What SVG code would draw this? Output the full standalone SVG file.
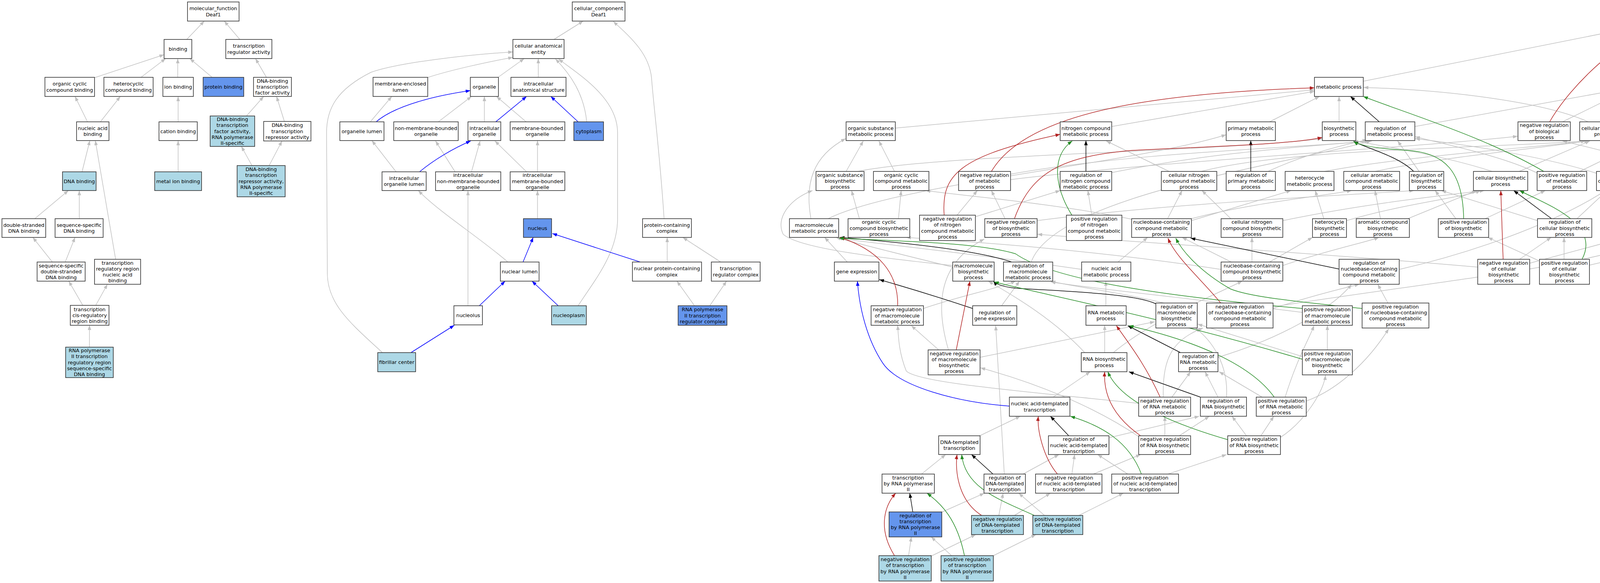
<svg xmlns="http://www.w3.org/2000/svg" width="6804" height="1493" viewBox="0 0 6804 1493">
<style>
.n rect{fill:#fff;stroke:#333;stroke-width:1.6}
.lb rect{fill:#add8e6}
.cb rect{fill:#6495ed}
text{font-family:"DejaVu Sans","Liberation Sans",sans-serif;font-size:12.8px;text-anchor:middle;fill:#000}
#edges path{fill:none;stroke-width:1.5}
#edges .g{stroke:#c0c0c0;marker-end:url(#ag)}
#edges .b{stroke:#0000ff;marker-end:url(#ab)}
#edges .k{stroke:#000;marker-end:url(#ak)}
#edges .r{stroke:#b22222;marker-end:url(#ar)}
#edges .gr{stroke:#228b22;marker-end:url(#agr)}
</style>
<defs>
<marker id="ag" viewBox="0 0 12 9" refX="12" refY="4.5" markerWidth="12" markerHeight="9" markerUnits="userSpaceOnUse" orient="auto"><path d="M0,0L12,4.5L0,9z" fill="#c0c0c0"/></marker>
<marker id="ab" viewBox="0 0 12 9" refX="12" refY="4.5" markerWidth="12" markerHeight="9" markerUnits="userSpaceOnUse" orient="auto"><path d="M0,0L12,4.5L0,9z" fill="#0000ff"/></marker>
<marker id="ak" viewBox="0 0 12 9" refX="12" refY="4.5" markerWidth="12" markerHeight="9" markerUnits="userSpaceOnUse" orient="auto"><path d="M0,0L12,4.5L0,9z" fill="#000"/></marker>
<marker id="ar" viewBox="0 0 12 9" refX="12" refY="4.5" markerWidth="12" markerHeight="9" markerUnits="userSpaceOnUse" orient="auto"><path d="M0,0L12,4.5L0,9z" fill="#b22222"/></marker>
<marker id="agr" viewBox="0 0 12 9" refX="12" refY="4.5" markerWidth="12" markerHeight="9" markerUnits="userSpaceOnUse" orient="auto"><path d="M0,0L12,4.5L0,9z" fill="#228b22"/></marker>
</defs>
<rect x="0" y="0" width="6804" height="1493" fill="#fff"/>
<g id="edges">
<path class="g" d="M478,101L523,54"/>
<path class="g" d="M614,101L574,54"/>
<path class="g" d="M242,199L420,140"/>
<path class="g" d="M361,198L424,150"/>
<path class="g" d="M455,198L455,150"/>
<path class="g" d="M543,198L486,150"/>
<path class="g" d="M682,198L654,150"/>
<path class="g" d="M224,312L192,247"/>
<path class="g" d="M257,312L308,247"/>
<path class="g" d="M456,312L456,247"/>
<path class="g" d="M631,297L675,247"/>
<path class="g" d="M728,311L708,247"/>
<path class="g" d="M210,440L230,360"/>
<path class="g" d="M456,440L456,360"/>
<path class="g" d="M645,424L618,375"/>
<path class="g" d="M689,424L722,361"/>
<path class="g" d="M89,560L175,488"/>
<path class="g" d="M203,560L203,488"/>
<path class="g" d="M134,671L84,608"/>
<path class="g" d="M167,671L192,608"/>
<path class="g" d="M296,664L244,360"/>
<path class="g" d="M212,782L176,720"/>
<path class="g" d="M245,782L275,728"/>
<path class="g" d="M229,889L229,833"/>
<path class="g" d="M1418,101L1493,54"/>
<path class="g" d="M1700,560C1690,400 1672,260 1668,200C1662,140 1620,100 1570,55"/>
<path class="g" d="M1090,200C1150,180 1250,158 1313,147"/>
<path class="g" d="M1275,198L1342,150"/>
<path class="g" d="M1378,198L1378,150"/>
<path class="g" d="M1502,312C1495,240 1460,190 1422,151"/>
<path class="g" d="M948,312L1003,247"/>
<path class="g" d="M1122,312L1207,247"/>
<path class="g" d="M1240,312L1240,247"/>
<path class="g" d="M1347,312L1271,247"/>
<path class="g" d="M979,903C900,830 838,780 838,700L836,340C836,280 860,230 950,185C1020,160 1200,140 1313,133"/>
<path class="g" d="M1014,440L952,360"/>
<path class="g" d="M1165,440L1115,361"/>
<path class="g" d="M1207,440L1229,361"/>
<path class="g" d="M1348,440L1267,361"/>
<path class="g" d="M1376,440L1376,360"/>
<path class="g" d="M1376,560L1376,488"/>
<path class="g" d="M1300,671C1230,610 1120,540 1071,488"/>
<path class="g" d="M1708,671L1708,608"/>
<path class="g" d="M1845,671L1748,608"/>
<path class="g" d="M1198,783L1198,488"/>
<path class="g" d="M1480,783C1520,720 1581,650 1581,560L1581,340C1581,250 1480,190 1430,151"/>
<path class="g" d="M1778,783L1733,720"/>
<path class="g" d="M1817,783L1860,720"/>
<path class="b" d="M1480,312L1410,247"/>
<path class="b" d="M963,312C1000,280 1080,250 1204,232"/>
<path class="b" d="M1269,312L1348,247"/>
<path class="b" d="M1074,440C1110,410 1160,380 1205,361"/>
<path class="b" d="M1339,671L1365,608"/>
<path class="b" d="M1639,671L1414,598"/>
<path class="b" d="M1227,783L1293,720"/>
<path class="b" d="M1429,783L1362,720"/>
<path class="b" d="M1052,903L1163,833"/>
<path class="g" d="M4276,101L4326,54"/>
<path class="g" d="M4198,198L4231,150"/>
<path class="g" d="M4000,312L4132,247"/>
<path class="g" d="M4238,312L4198,247"/>
<path class="g" d="M3490,208L4293,48"/>
<path class="g" d="M4436,198L4370,54"/>
<path class="g" d="M5152,117C4900,80 4600,45 4420,40"/>
<path class="g" d="M6155,210C5800,160 4700,65 4420,48"/>
<path class="g" d="M6402,122C6000,100 4800,50 4420,44"/>
<path class="g" d="M4644,312L4502,247"/>
<path class="g" d="M4396,312L4242,247"/>
<path class="g" d="M4370,439L4429,361"/>
<path class="g" d="M4290,440C4200,410 4080,380 4000,361"/>
<path class="g" d="M4534,439L4469,361"/>
<path class="g" d="M4495,440C4430,410 4350,380 4300,361"/>
<path class="g" d="M4700,439C4650,410 4560,380 4502,358"/>
<path class="g" d="M4794,439L4721,361"/>
<path class="g" d="M4147,312C4230,270 4330,240 4393,235"/>
<path class="g" d="M4066,312C3950,260 3700,230 3491,224"/>
<path class="g" d="M3622,324L4120,234"/>
<path class="g" d="M3428,312L3428,247"/>
<path class="g" d="M3250,312L3378,247"/>
<path class="g" d="M2846,324L3365,234"/>
<path class="g" d="M2292,328L3365,230"/>
<path class="g" d="M2587,446C2900,390 3300,380 3512,361"/>
<path class="g" d="M2587,460C3000,410 3600,380 3885,349"/>
<path class="g" d="M2846,442C3100,390 3350,375 3505,361"/>
<path class="g" d="M3246,439C3330,400 3420,375 3500,358"/>
<path class="g" d="M2993,439L2832,361"/>
<path class="g" d="M3075,439C3300,380 3800,380 4060,361"/>
<path class="g" d="M3390,439C3600,400 3900,380 4068,361"/>
<path class="g" d="M3520,439C3700,400 3950,380 4059,361"/>
<path class="g" d="M2290,439L2250,361"/>
<path class="g" d="M2166,439L2210,361"/>
<path class="g" d="M2190,440C2400,395 3100,390 3385,355"/>
<path class="g" d="M3820,439C3700,400 3550,375 3465,361"/>
<path class="g" d="M3889,439L4070,361"/>
<path class="g" d="M3937,444C3850,400 3700,370 3623,350"/>
<path class="g" d="M4044,439L4205,361"/>
<path class="g" d="M4088,444C3950,400 3750,370 3623,355"/>
<path class="g" d="M4205,439L4393,361"/>
<path class="g" d="M4286,560L4330,488"/>
<path class="g" d="M4242,560L4176,488"/>
<path class="g" d="M4451,560L4524,488"/>
<path class="g" d="M4380,560L4205,488"/>
<path class="g" d="M3633,439L3578,361"/>
<path class="g" d="M2573,560L2538,488"/>
<path class="g" d="M2655,565C3000,520 3450,500 3620,488"/>
<path class="g" d="M3727,560L3674,488"/>
<path class="g" d="M3802,560L3956,488"/>
<path class="g" d="M2450,551L2502,488"/>
<path class="g" d="M2497,555L2714,488"/>
<path class="g" d="M2795,551L2785,488"/>
<path class="g" d="M2989,560L3026,488"/>
<path class="g" d="M3050,565L3305,488"/>
<path class="g" d="M3050,560C3200,520 3400,500 3460,488"/>
<path class="g" d="M2900,562C2700,520 2450,500 2370,488"/>
<path class="g" d="M3151,560L3077,488"/>
<path class="g" d="M3284,565C3500,520 3700,500 3800,488"/>
<path class="g" d="M3389,560L3367,488"/>
<path class="g" d="M3447,565C3600,520 3750,505 3790,488"/>
<path class="g" d="M3534,560L3520,488"/>
<path class="g" d="M3604,560L3780,488"/>
<path class="g" d="M2076,560C2060,470 2080,400 2165,355"/>
<path class="g" d="M2120,560C2300,470 2900,420 3139,345"/>
<path class="g" d="M2300,560L2307,488"/>
<path class="g" d="M2200,560L2180,488"/>
<path class="g" d="M3152,671L3026,608"/>
<path class="g" d="M3205,671L3205,608"/>
<path class="g" d="M3250,671L3360,608"/>
<path class="g" d="M3284,680C3400,640 3500,620 3530,608"/>
<path class="g" d="M3126,690C2800,640 2500,620 2320,608"/>
<path class="g" d="M2439,684C2300,650 2200,625 2140,608"/>
<path class="g" d="M2440,680C2300,665 2050,640 2005,600C1985,560 2020,510 2080,488"/>
<path class="g" d="M2640,671C2700,500 3300,420 3510,361"/>
<path class="g" d="M2862,671L2938,608"/>
<path class="g" d="M2770,690C2500,650 2250,625 2145,610"/>
<path class="g" d="M2169,671L2111,608"/>
<path class="g" d="M2364,790C2450,760 2550,740 2600,720"/>
<path class="g" d="M2564,783L2610,720"/>
<path class="g" d="M2831,783L2831,720"/>
<path class="g" d="M2980,776C2850,745 2750,735 2690,720"/>
<path class="g" d="M3259,790C3350,760 3430,740 3480,728"/>
<path class="g" d="M3259,786C3600,730 4100,680 4235,610"/>
<path class="g" d="M3334,800C3100,770 2800,740 2690,722"/>
<path class="g" d="M3553,776L3527,728"/>
<path class="g" d="M2428,896C2400,800 2390,680 2520,612"/>
<path class="g" d="M2509,915L2956,824"/>
<path class="g" d="M2403,896L2333,834"/>
<path class="g" d="M2828,903L2828,833"/>
<path class="g" d="M2850,903C2950,820 3100,760 3180,720"/>
<path class="g" d="M2777,903C2700,820 2600,760 2530,720"/>
<path class="g" d="M3118,915C3300,860 3420,780 3460,728"/>
<path class="g" d="M2696,1017L2791,952"/>
<path class="g" d="M3000,1017L3048,952"/>
<path class="g" d="M2978,1017C2975,920 3000,870 3080,840"/>
<path class="g" d="M2915,1033C2600,1000 2350,980 2320,950C2300,900 2300,860 2298,833"/>
<path class="g" d="M3118,1017L3085,952"/>
<path class="g" d="M3140,1017C3145,930 3100,870 3060,840"/>
<path class="g" d="M3231,1017L3121,952"/>
<path class="g" d="M3344,1027C3420,1000 3500,930 3555,842"/>
<path class="g" d="M3290,1017C3320,920 3350,870 3364,834"/>
<path class="g" d="M2508,1116L2612,1066"/>
<path class="g" d="M2839,1121L3070,1066"/>
<path class="g" d="M2982,1116L2982,1066"/>
<path class="g" d="M3019,1116L3096,1066"/>
<path class="g" d="M2915,1118C2800,1040 2650,980 2510,942"/>
<path class="g" d="M3228,1116L3261,1066"/>
<path class="g" d="M3191,1116L3154,1066"/>
<path class="g" d="M3278,1120C3340,1080 3390,1000 3393,961"/>
<path class="g" d="M2359,1214L2421,1164"/>
<path class="g" d="M2619,1214L2711,1164"/>
<path class="g" d="M2571,1214L2549,834"/>
<path class="g" d="M2744,1214L2751,1164"/>
<path class="g" d="M2799,1214L2920,1164"/>
<path class="g" d="M2887,1214L2810,1164"/>
<path class="g" d="M2990,1214L3140,1164"/>
<path class="g" d="M2410,1312L2520,1263"/>
<path class="g" d="M2557,1320L2568,1263"/>
<path class="g" d="M2597,1320L2689,1263"/>
<path class="g" d="M2674,1320L2608,1263"/>
<path class="g" d="M2762,1320L2876,1263"/>
<path class="g" d="M2326,1423L2333,1375"/>
<path class="g" d="M2384,1424L2498,1369"/>
<path class="g" d="M2436,1423L2384,1375"/>
<path class="g" d="M2543,1423L2652,1369"/>
<path class="g" d="M3398,896L3398,833"/>
<path class="g" d="M3334,913L3066,830"/>
<path class="g" d="M3936,565L3690,488"/>
<path class="g" d="M4037,560L4114,488"/>
<path class="g" d="M3890,664L3971,608"/>
<path class="g" d="M3783,684C3400,650 2900,620 2656,600"/>
<path class="g" d="M3916,674L4198,598"/>
<path class="g" d="M4004,664L4004,608"/>
<path class="g" d="M4069,679L4359,612"/>
<path class="g" d="M3938,667L3809,608"/>
<path class="g" d="M3582,690C3800,640 4000,560 4110,488"/>
<path class="g" d="M5394,198L5264,150"/>
<path class="g" d="M5074,323L5384,243"/>
<path class="g" d="M5251,312L5211,150"/>
<path class="g" d="M5454,312L5454,247"/>
<path class="g" d="M5713,439L5487,247"/>
<path class="g" d="M4970,439L5013,361"/>
<path class="g" d="M5124,439L5195,150"/>
<path class="g" d="M5322,439L5275,361"/>
<path class="g" d="M5508,439L5471,361"/>
<path class="g" d="M4957,560L4957,488"/>
<path class="g" d="M5249,560L5255,361"/>
<path class="g" d="M5391,560L5355,488"/>
<path class="g" d="M5634,560C5645,420 5560,380 5400,385C5350,385 5340,370 5330,361"/>
<path class="g" d="M4981,671C5050,590 5150,540 5333,526C5420,515 5450,500 5465,488"/>
<path class="g" d="M5146,671L5121,488"/>
<path class="g" d="M5272,671L5256,608"/>
<path class="g" d="M5306,671L5376,608"/>
<path class="g" d="M5408,671L5405,608"/>
<path class="g" d="M5458,671L5583,608"/>
<path class="g" d="M4829,783L4820,488"/>
<path class="g" d="M4728,560L4706,488"/>
<path class="g" d="M4775,896C4750,800 4740,700 4736,608"/>
<path class="g" d="M5251,783L5180,720"/>
<path class="g" d="M5708,786C5620,720 5520,640 5515,488"/>
<path class="g" d="M5350,903L5303,833"/>
<path class="g" d="M5398,1017L5377,952"/>
<path class="g" d="M5183,1116L5152,720"/>
<path class="g" d="M5333,1116L5363,952"/>
<path class="g" d="M5240,1214L5205,1164"/>
<path class="g" d="M5968,312L6155,247"/>
<path class="g" d="M5823,313L5526,243"/>
<path class="g" d="M5901,439L5901,360"/>
<path class="g" d="M6066,439C6055,340 6000,290 5850,255C5700,230 5600,225 5527,225"/>
<path class="g" d="M5913,560L5906,488"/>
<path class="g" d="M5898,671C5960,630 6030,590 6063,488"/>
<path class="g" d="M5979,671L5938,608"/>
<path class="g" d="M6136,671L6078,488"/>
<path class="g" d="M6086,783L6123,720"/>
<path class="g" d="M6222,312L6222,247"/>
<path class="g" d="M6315,311L6251,247"/>
<path class="g" d="M6444,198L6444,150"/>
<path class="g" d="M6538,198L6479,150"/>
<path class="g" d="M6444,312L6444,247"/>
<path class="g" d="M6570,312L6570,247"/>
<path class="g" d="M6691,311L6607,247"/>
<path class="g" d="M6681,311C6630,280 6500,262 6291,234"/>
<path class="g" d="M6222,439L6222,360"/>
<path class="g" d="M6451,439L6446,361"/>
<path class="g" d="M6585,439L6575,361"/>
<path class="g" d="M6543,439C6480,400 6420,390 6372,361"/>
<path class="g" d="M6727,439L6727,361"/>
<path class="g" d="M6231,560L6225,488"/>
<path class="g" d="M6400,560L6347,361"/>
<path class="g" d="M6415,560L6439,488"/>
<path class="g" d="M6643,560L6604,488"/>
<path class="g" d="M6671,560L6711,488"/>
<path class="g" d="M6298,671L6253,608"/>
<path class="g" d="M6318,671L6338,361"/>
<path class="g" d="M6321,783L6318,720"/>
<path class="g" d="M6323,903L6323,833"/>
<path class="g" d="M6355,1017L6333,952"/>
<path class="g" d="M6368,1017C6390,900 6400,750 6404,608"/>
<path class="k" d="M4169,198C4150,140 4170,60 4293,36"/>
<path class="k" d="M4447,312L4447,247"/>
<path class="k" d="M4696,439L4696,360"/>
<path class="k" d="M4753,560L4802,488"/>
<path class="k" d="M4797,896L4819,833"/>
<path class="k" d="M3531,312L3457,247"/>
<path class="k" d="M4139,439L4116,361"/>
<path class="k" d="M2780,439L2780,360"/>
<path class="k" d="M3202,439L3202,360"/>
<path class="k" d="M3619,439C3580,400 3500,380 3465,362"/>
<path class="k" d="M2590,671C2500,640 2300,620 2150,608"/>
<path class="k" d="M2490,790C2400,760 2300,730 2251,716"/>
<path class="k" d="M2959,778C2900,750 2700,745 2600,738C2570,735 2550,728 2543,720"/>
<path class="k" d="M3022,903L2887,834"/>
<path class="k" d="M3073,1017L2890,952"/>
<path class="k" d="M2736,1116L2689,1066"/>
<path class="k" d="M2542,1214L2487,1164"/>
<path class="k" d="M2337,1312L2329,1263"/>
<path class="k" d="M3428,689L3048,610"/>
<path class="k" d="M3972,560L3875,488"/>
<path class="r" d="M3967,312C4020,220 4150,90 4293,43"/>
<path class="r" d="M4351,439C4350,380 4370,290 4418,247"/>
<path class="r" d="M2538,439C2620,300 2900,240 3365,225"/>
<path class="r" d="M4264,560C4260,480 4200,400 4155,361"/>
<path class="r" d="M2597,560C2640,440 2720,400 2900,385C3100,375 3300,370 3385,352"/>
<path class="r" d="M2417,551C2410,450 2450,400 2714,344"/>
<path class="r" d="M2298,783C2300,700 2250,640 2150,608"/>
<path class="r" d="M3125,776C3080,720 3010,660 2990,610"/>
<path class="r" d="M2448,896L2483,720"/>
<path class="r" d="M2970,1017C2930,930 2890,880 2858,834"/>
<path class="r" d="M2920,1116C2840,1060 2825,1000 2828,952"/>
<path class="r" d="M2707,1214C2670,1170 2655,1100 2658,1066"/>
<path class="r" d="M2513,1320C2450,1280 2445,1200 2450,1164"/>
<path class="r" d="M2290,1423C2250,1360 2260,1300 2293,1263"/>
<path class="r" d="M3848,664L3842,488"/>
<path class="gr" d="M4266,312C4300,200 4340,100 4352,54"/>
<path class="gr" d="M4552,439C4540,350 4510,290 4481,247"/>
<path class="gr" d="M3952,439C3800,350 3600,290 3490,247"/>
<path class="gr" d="M4433,560C4450,420 4380,380 4300,385C4230,390 4180,380 4158,361"/>
<path class="gr" d="M3747,560C3745,440 3700,390 3600,385C3520,380 3480,372 3465,362"/>
<path class="gr" d="M2744,551C2700,480 2690,400 2745,361"/>
<path class="gr" d="M3334,790C3000,760 2700,720 2600,650C2500,620 2300,618 2148,610"/>
<path class="gr" d="M3487,790C3300,770 3200,760 3150,740C3080,700 3030,650 3010,610"/>
<path class="gr" d="M3334,920C3000,820 2700,760 2545,722"/>
<path class="gr" d="M3262,1017C3200,930 3050,870 2890,834"/>
<path class="gr" d="M3143,1126C2950,1070 2860,1010 2836,952"/>
<path class="gr" d="M2922,1214C2890,1130 2820,1090 2740,1066"/>
<path class="gr" d="M2648,1320C2560,1280 2470,1250 2462,1164"/>
<path class="gr" d="M2469,1423C2450,1330 2410,1290 2373,1263"/>
<path class="gr" d="M4050,664C4100,570 3950,520 3890,488"/>
<path class="b" d="M5300,312L5414,247"/>
<path class="b" d="M5144,439L5231,361"/>
<path class="b" d="M5359,439L5432,361"/>
<path class="b" d="M5311,560C5400,520 5550,510 5678,486"/>
<path class="b" d="M5427,560L5495,488"/>
<path class="b" d="M5684,560L5841,488"/>
<path class="b" d="M4956,671L4956,608"/>
<path class="b" d="M5172,671L5227,608"/>
<path class="b" d="M4857,783L4922,720"/>
<path class="b" d="M5280,783L5280,720"/>
<path class="b" d="M5774,783L5820,720"/>
<path class="b" d="M5800,786L5938,720"/>
<path class="b" d="M5372,903L5410,720"/>
<path class="b" d="M5442,1017L5713,833"/>
<path class="b" d="M5348,1116L5385,1066"/>
<path class="b" d="M5275,1214L5310,1164"/>
<path class="b" d="M5770,439L5864,361"/>
<path class="b" d="M6039,439L5938,361"/>
<path class="b" d="M6056,783L6019,720"/>
<path class="b" d="M2584,1040C2450,1030 2300,990 2260,930C2220,870 2200,790 2195,720"/>
</g>
<g id="nodes">
<g id="mf" class="n"><rect x="480" y="5" width="132" height="49"/><text x="546" y="26.35"><tspan x="546">molecular_function</tspan><tspan x="546" dy="15.3">Deaf1</tspan></text></g>
<g id="binding" class="n"><rect x="420" y="101" width="71" height="49"/><text x="455.5" y="130">binding</text></g>
<g id="tra" class="n"><rect x="578" y="101" width="118" height="49"/><text x="637" y="122.35"><tspan x="637">transcription</tspan><tspan x="637" dy="15.3">regulator activity</tspan></text></g>
<g id="ocb" class="n"><rect x="115" y="198" width="127" height="49"/><text x="178.5" y="219.35"><tspan x="178.5">organic cyclic</tspan><tspan x="178.5" dy="15.3">compound binding</tspan></text></g>
<g id="hcb" class="n"><rect x="266" y="198" width="126" height="49"/><text x="329" y="219.35"><tspan x="329">heterocyclic</tspan><tspan x="329" dy="15.3">compound binding</tspan></text></g>
<g id="ionb" class="n"><rect x="417" y="198" width="78" height="49"/><text x="456" y="227">ion binding</text></g>
<g id="protb" class="n cb"><rect x="520" y="198" width="104" height="49"/><text x="572" y="227">protein binding</text></g>
<g id="dbtf" class="n"><rect x="649" y="198" width="97" height="49"/><text x="697.5" y="211.7"><tspan x="697.5">DNA-binding</tspan><tspan x="697.5" dy="15.3">transcription</tspan><tspan x="697.5" dy="15.3">factor activity</tspan></text></g>
<g id="nab" class="n"><rect x="196" y="312" width="83" height="48"/><text x="237.5" y="332.85"><tspan x="237.5">nucleic acid</tspan><tspan x="237.5" dy="15.3">binding</tspan></text></g>
<g id="catb" class="n"><rect x="407" y="312" width="98" height="48"/><text x="456" y="340.5">cation binding</text></g>
<g id="dbtf2" class="n lb"><rect x="538" y="297" width="114" height="78"/><text x="595" y="309.9"><tspan x="595">DNA-binding</tspan><tspan x="595" dy="15.3">transcription</tspan><tspan x="595" dy="15.3">factor activity,</tspan><tspan x="595" dy="15.3">RNA polymerase</tspan><tspan x="595" dy="15.3">II-specific</tspan></text></g>
<g id="dbtr" class="n"><rect x="675" y="311" width="121" height="50"/><text x="735.5" y="325.2"><tspan x="735.5">DNA-binding</tspan><tspan x="735.5" dy="15.3">transcription</tspan><tspan x="735.5" dy="15.3">repressor activity</tspan></text></g>
<g id="dnab" class="n lb"><rect x="160" y="440" width="86" height="48"/><text x="203" y="468.5">DNA binding</text></g>
<g id="mib" class="n lb"><rect x="396" y="440" width="120" height="48"/><text x="456" y="468.5">metal ion binding</text></g>
<g id="dbtr2" class="n lb"><rect x="607" y="424" width="123" height="80"/><text x="668.5" y="437.9"><tspan x="668.5">DNA-binding</tspan><tspan x="668.5" dy="15.3">transcription</tspan><tspan x="668.5" dy="15.3">repressor activity,</tspan><tspan x="668.5" dy="15.3">RNA polymerase</tspan><tspan x="668.5" dy="15.3">II-specific</tspan></text></g>
<g id="dsdb" class="n"><rect x="5" y="560" width="112" height="48"/><text x="61" y="580.85"><tspan x="61">double-stranded</tspan><tspan x="61" dy="15.3">DNA binding</tspan></text></g>
<g id="ssdb" class="n"><rect x="141" y="560" width="123" height="48"/><text x="202.5" y="580.85"><tspan x="202.5">sequence-specific</tspan><tspan x="202.5" dy="15.3">DNA binding</tspan></text></g>
<g id="ssdsdb" class="n"><rect x="95" y="671" width="123" height="49"/><text x="156.5" y="684.7"><tspan x="156.5">sequence-specific</tspan><tspan x="156.5" dy="15.3">double-stranded</tspan><tspan x="156.5" dy="15.3">DNA binding</tspan></text></g>
<g id="trrnab" class="n"><rect x="242" y="664" width="118" height="64"/><text x="301" y="677.55"><tspan x="301">transcription</tspan><tspan x="301" dy="15.3">regulatory region</tspan><tspan x="301" dy="15.3">nucleic acid</tspan><tspan x="301" dy="15.3">binding</tspan></text></g>
<g id="tcrrb" class="n"><rect x="180" y="782" width="99" height="51"/><text x="229.5" y="796.7"><tspan x="229.5">transcription</tspan><tspan x="229.5" dy="15.3">cis-regulatory</tspan><tspan x="229.5" dy="15.3">region binding</tspan></text></g>
<g id="rnap2rr" class="n lb"><rect x="168" y="889" width="122" height="78"/><text x="229" y="901.9"><tspan x="229">RNA polymerase</tspan><tspan x="229" dy="15.3">II transcription</tspan><tspan x="229" dy="15.3">regulatory region</tspan><tspan x="229" dy="15.3">sequence-specific</tspan><tspan x="229" dy="15.3">DNA binding</tspan></text></g>
<g id="cc" class="n"><rect x="1465" y="5" width="135" height="49"/><text x="1532.5" y="26.35"><tspan x="1532.5">cellular_component</tspan><tspan x="1532.5" dy="15.3">Deaf1</tspan></text></g>
<g id="cae" class="n"><rect x="1313" y="101" width="131" height="49"/><text x="1378.5" y="122.35"><tspan x="1378.5">cellular anatomical</tspan><tspan x="1378.5" dy="15.3">entity</tspan></text></g>
<g id="mel" class="n"><rect x="955" y="198" width="140" height="49"/><text x="1025" y="219.35"><tspan x="1025">membrane-enclosed</tspan><tspan x="1025" dy="15.3">lumen</tspan></text></g>
<g id="org" class="n"><rect x="1204" y="198" width="72" height="49"/><text x="1240" y="227">organelle</text></g>
<g id="ias" class="n"><rect x="1308" y="198" width="141" height="49"/><text x="1378.5" y="219.35"><tspan x="1378.5">intracellular</tspan><tspan x="1378.5" dy="15.3">anatomical structure</tspan></text></g>
<g id="ol" class="n"><rect x="870" y="312" width="113" height="48"/><text x="926.5" y="340.5">organelle lumen</text></g>
<g id="nmbo" class="n"><rect x="1008" y="312" width="165" height="48"/><text x="1090.5" y="332.85"><tspan x="1090.5">non-membrane-bounded</tspan><tspan x="1090.5" dy="15.3">organelle</tspan></text></g>
<g id="io" class="n"><rect x="1198" y="312" width="84" height="48"/><text x="1240" y="332.85"><tspan x="1240">intracellular</tspan><tspan x="1240" dy="15.3">organelle</tspan></text></g>
<g id="mbo" class="n"><rect x="1306" y="312" width="140" height="48"/><text x="1376" y="332.85"><tspan x="1376">membrane-bounded</tspan><tspan x="1376" dy="15.3">organelle</tspan></text></g>
<g id="cyto" class="n cb"><rect x="1469" y="312" width="76" height="48"/><text x="1507" y="340.5">cytoplasm</text></g>
<g id="iol" class="n"><rect x="978" y="440" width="113" height="48"/><text x="1034.5" y="460.85"><tspan x="1034.5">intracellular</tspan><tspan x="1034.5" dy="15.3">organelle lumen</tspan></text></g>
<g id="inmbo" class="n"><rect x="1115" y="440" width="167" height="48"/><text x="1198.5" y="453.2"><tspan x="1198.5">intracellular</tspan><tspan x="1198.5" dy="15.3">non-membrane-bounded</tspan><tspan x="1198.5" dy="15.3">organelle</tspan></text></g>
<g id="imbo" class="n"><rect x="1306" y="440" width="140" height="48"/><text x="1376" y="453.2"><tspan x="1376">intracellular</tspan><tspan x="1376" dy="15.3">membrane-bounded</tspan><tspan x="1376" dy="15.3">organelle</tspan></text></g>
<g id="nucleus" class="n cb"><rect x="1340" y="560" width="72" height="48"/><text x="1376" y="588.5">nucleus</text></g>
<g id="pcc" class="n"><rect x="1645" y="560" width="125" height="48"/><text x="1707.5" y="580.85"><tspan x="1707.5">protein-containing</tspan><tspan x="1707.5" dy="15.3">complex</tspan></text></g>
<g id="nl" class="n"><rect x="1281" y="671" width="99" height="49"/><text x="1330.5" y="700">nuclear lumen</text></g>
<g id="npcc" class="n"><rect x="1619" y="671" width="177" height="49"/><text x="1707.5" y="692.35"><tspan x="1707.5">nuclear protein-containing</tspan><tspan x="1707.5" dy="15.3">complex</tspan></text></g>
<g id="trc" class="n"><rect x="1821" y="671" width="125" height="49"/><text x="1883.5" y="692.35"><tspan x="1883.5">transcription</tspan><tspan x="1883.5" dy="15.3">regulator complex</tspan></text></g>
<g id="nucleolus" class="n"><rect x="1162" y="783" width="73" height="49"/><text x="1198.5" y="812">nucleolus</text></g>
<g id="nucleoplasm" class="n lb"><rect x="1412" y="783" width="89" height="49"/><text x="1456.5" y="812">nucleoplasm</text></g>
<g id="rnap2trc" class="n cb"><rect x="1736" y="783" width="125" height="50"/><text x="1798.5" y="797.2"><tspan x="1798.5">RNA polymerase</tspan><tspan x="1798.5" dy="15.3">II transcription</tspan><tspan x="1798.5" dy="15.3">regulator complex</tspan></text></g>
<g id="fc" class="n lb"><rect x="967" y="903" width="97" height="49"/><text x="1015.5" y="932">fibrillar center</text></g>
<g id="bp" class="n"><rect x="4293" y="5" width="126" height="49"/><text x="4356" y="26.35"><tspan x="4356">biological_process</tspan><tspan x="4356" dy="15.3">Deaf1</tspan></text></g>
<g id="breg" class="n"><rect x="4180" y="101" width="138" height="49"/><text x="4249" y="130">biological regulation</text></g>
<g id="dev" class="n"><rect x="5152" y="101" width="104" height="49"/><text x="5204" y="122.35"><tspan x="5204">developmental</tspan><tspan x="5204" dy="15.3">process</tspan></text></g>
<g id="rts" class="n"><rect x="6402" y="101" width="83" height="49"/><text x="6443.5" y="122.35"><tspan x="6443.5">response to</tspan><tspan x="6443.5" dy="15.3">stimulus</tspan></text></g>
<g id="mp" class="n"><rect x="3365" y="198" width="125" height="49"/><text x="3427.5" y="227">metabolic process</text></g>
<g id="rbp" class="n"><rect x="4120" y="198" width="122" height="49"/><text x="4181" y="219.35"><tspan x="4181">regulation of</tspan><tspan x="4181" dy="15.3">biological process</tspan></text></g>
<g id="cp" class="n"><rect x="4394" y="198" width="107" height="49"/><text x="4447.5" y="227">cellular process</text></g>
<g id="asd" class="n"><rect x="5384" y="198" width="142" height="49"/><text x="5455" y="219.35"><tspan x="5455">anatomical structure</tspan><tspan x="5455" dy="15.3">development</tspan></text></g>
<g id="mop" class="n"><rect x="6155" y="198" width="134" height="49"/><text x="6222" y="219.35"><tspan x="6222">multicellular</tspan><tspan x="6222" dy="15.3">organismal process</tspan></text></g>
<g id="rabs" class="n"><rect x="6389" y="198" width="111" height="49"/><text x="6444.5" y="219.35"><tspan x="6444.5">response to</tspan><tspan x="6444.5" dy="15.3">abiotic stimulus</tspan></text></g>
<g id="rstress" class="n"><rect x="6528" y="198" width="84" height="49"/><text x="6570" y="219.35"><tspan x="6570">response to</tspan><tspan x="6570" dy="15.3">stress</tspan></text></g>
<g id="osmp" class="n"><rect x="2166" y="312" width="126" height="48"/><text x="2229" y="332.85"><tspan x="2229">organic substance</tspan><tspan x="2229" dy="15.3">metabolic process</tspan></text></g>
<g id="ncmp" class="n"><rect x="2714" y="312" width="132" height="48"/><text x="2780" y="332.85"><tspan x="2780">nitrogen compound</tspan><tspan x="2780" dy="15.3">metabolic process</tspan></text></g>
<g id="pmp" class="n"><rect x="3139" y="312" width="126" height="48"/><text x="3202" y="332.85"><tspan x="3202">primary metabolic</tspan><tspan x="3202" dy="15.3">process</tspan></text></g>
<g id="bsp" class="n"><rect x="3385" y="312" width="86" height="48"/><text x="3428" y="332.85"><tspan x="3428">biosynthetic</tspan><tspan x="3428" dy="15.3">process</tspan></text></g>
<g id="rmp" class="n"><rect x="3495" y="312" width="127" height="48"/><text x="3558.5" y="332.85"><tspan x="3558.5">regulation of</tspan><tspan x="3558.5" dy="15.3">metabolic process</tspan></text></g>
<g id="nrbp" class="n"><rect x="3886" y="312" width="134" height="48"/><text x="3953" y="325.2"><tspan x="3953">negative regulation</tspan><tspan x="3953" dy="15.3">of biological</tspan><tspan x="3953" dy="15.3">process</tspan></text></g>
<g id="cmp" class="n"><rect x="4044" y="312" width="123" height="48"/><text x="4105.5" y="332.85"><tspan x="4105.5">cellular metabolic</tspan><tspan x="4105.5" dy="15.3">process</tspan></text></g>
<g id="prbp" class="n"><rect x="4191" y="312" width="127" height="48"/><text x="4254.5" y="325.2"><tspan x="4254.5">positive regulation</tspan><tspan x="4254.5" dy="15.3">of biological</tspan><tspan x="4254.5" dy="15.3">process</tspan></text></g>
<g id="rcp" class="n"><rect x="4394" y="312" width="107" height="48"/><text x="4447.5" y="332.85"><tspan x="4447.5">regulation of</tspan><tspan x="4447.5" dy="15.3">cellular process</tspan></text></g>
<g id="cpp" class="n"><rect x="4645" y="312" width="102" height="48"/><text x="4696" y="332.85"><tspan x="4696">cell population</tspan><tspan x="4696" dy="15.3">proliferation</tspan></text></g>
<g id="aod" class="n"><rect x="4982" y="312" width="92" height="48"/><text x="5028" y="332.85"><tspan x="5028">animal organ</tspan><tspan x="5028" dy="15.3">development</tspan></text></g>
<g id="asm" class="n"><rect x="5187" y="312" width="142" height="48"/><text x="5258" y="332.85"><tspan x="5258">anatomical structure</tspan><tspan x="5258" dy="15.3">morphogenesis</tspan></text></g>
<g id="td" class="n"><rect x="5387" y="312" width="134" height="48"/><text x="5454" y="340.5">tissue development</text></g>
<g id="mod" class="n lb"><rect x="5823" y="312" width="158" height="48"/><text x="5902" y="332.85"><tspan x="5902">multicellular</tspan><tspan x="5902" dy="15.3">organism development</tspan></text></g>
<g id="sp" class="n"><rect x="6169" y="312" width="107" height="48"/><text x="6222.5" y="340.5">system process</text></g>
<g id="beh" class="n"><rect x="6304" y="312" width="72" height="48"/><text x="6340" y="340.5">behavior</text></g>
<g id="rrad" class="n"><rect x="6402" y="312" width="83" height="48"/><text x="6443.5" y="332.85"><tspan x="6443.5">response to</tspan><tspan x="6443.5" dy="15.3">radiation</tspan></text></g>
<g id="dr" class="n"><rect x="6510" y="312" width="121" height="48"/><text x="6570.5" y="340.5">defense response</text></g>
<g id="mors" class="n"><rect x="6655" y="311" width="143" height="50"/><text x="6726.5" y="325.2"><tspan x="6726.5">multicellular</tspan><tspan x="6726.5" dy="15.3">organismal response</tspan><tspan x="6726.5" dy="15.3">to stress</tspan></text></g>
<g id="osbp" class="n"><rect x="2089" y="439" width="123" height="49"/><text x="2150.5" y="452.7"><tspan x="2150.5">organic substance</tspan><tspan x="2150.5" dy="15.3">biosynthetic</tspan><tspan x="2150.5" dy="15.3">process</tspan></text></g>
<g id="occmp" class="n"><rect x="2236" y="439" width="142" height="49"/><text x="2307" y="452.7"><tspan x="2307">organic cyclic</tspan><tspan x="2307" dy="15.3">compound metabolic</tspan><tspan x="2307" dy="15.3">process</tspan></text></g>
<g id="nrmp" class="n"><rect x="2454" y="439" width="133" height="49"/><text x="2520.5" y="452.7"><tspan x="2520.5">negative regulation</tspan><tspan x="2520.5" dy="15.3">of metabolic</tspan><tspan x="2520.5" dy="15.3">process</tspan></text></g>
<g id="rncmp" class="n"><rect x="2714" y="439" width="132" height="49"/><text x="2780" y="452.7"><tspan x="2780">regulation of</tspan><tspan x="2780" dy="15.3">nitrogen compound</tspan><tspan x="2780" dy="15.3">metabolic process</tspan></text></g>
<g id="cncmp" class="n"><rect x="2973" y="439" width="142" height="49"/><text x="3044" y="452.7"><tspan x="3044">cellular nitrogen</tspan><tspan x="3044" dy="15.3">compound metabolic</tspan><tspan x="3044" dy="15.3">process</tspan></text></g>
<g id="rpmp" class="n"><rect x="3139" y="439" width="126" height="49"/><text x="3202" y="452.7"><tspan x="3202">regulation of</tspan><tspan x="3202" dy="15.3">primary metabolic</tspan><tspan x="3202" dy="15.3">process</tspan></text></g>
<g id="hmp" class="n"><rect x="3290" y="439" width="125" height="49"/><text x="3352.5" y="460.35"><tspan x="3352.5">heterocycle</tspan><tspan x="3352.5" dy="15.3">metabolic process</tspan></text></g>
<g id="cacmp" class="n"><rect x="3440" y="439" width="143" height="49"/><text x="3511.5" y="452.7"><tspan x="3511.5">cellular aromatic</tspan><tspan x="3511.5" dy="15.3">compound metabolic</tspan><tspan x="3511.5" dy="15.3">process</tspan></text></g>
<g id="rbsp" class="n"><rect x="3608" y="439" width="88" height="49"/><text x="3652" y="452.7"><tspan x="3652">regulation of</tspan><tspan x="3652" dy="15.3">biosynthetic</tspan><tspan x="3652" dy="15.3">process</tspan></text></g>
<g id="cbp" class="n"><rect x="3772" y="439" width="139" height="49"/><text x="3841.5" y="460.35"><tspan x="3841.5">cellular biosynthetic</tspan><tspan x="3841.5" dy="15.3">process</tspan></text></g>
<g id="prmp" class="n"><rect x="3935" y="439" width="127" height="49"/><text x="3998.5" y="452.7"><tspan x="3998.5">positive regulation</tspan><tspan x="3998.5" dy="15.3">of metabolic</tspan><tspan x="3998.5" dy="15.3">process</tspan></text></g>
<g id="rcmp" class="n"><rect x="4087" y="439" width="122" height="49"/><text x="4148" y="452.7"><tspan x="4148">regulation of</tspan><tspan x="4148" dy="15.3">cellular metabolic</tspan><tspan x="4148" dy="15.3">process</tspan></text></g>
<g id="nrcp" class="n"><rect x="4284" y="439" width="133" height="49"/><text x="4350.5" y="452.7"><tspan x="4350.5">negative regulation</tspan><tspan x="4350.5" dy="15.3">of cellular</tspan><tspan x="4350.5" dy="15.3">process</tspan></text></g>
<g id="prcp" class="n"><rect x="4491" y="439" width="129" height="49"/><text x="4555.5" y="452.7"><tspan x="4555.5">positive regulation</tspan><tspan x="4555.5" dy="15.3">of cellular</tspan><tspan x="4555.5" dy="15.3">process</tspan></text></g>
<g id="rcpp" class="n"><rect x="4645" y="439" width="102" height="49"/><text x="4696" y="452.7"><tspan x="4696">regulation of</tspan><tspan x="4696" dy="15.3">cell population</tspan><tspan x="4696" dy="15.3">proliferation</tspan></text></g>
<g id="ecp" class="n"><rect x="4772" y="439" width="93" height="49"/><text x="4818.5" y="460.35"><tspan x="4818.5">epithelial cell</tspan><tspan x="4818.5" dy="15.3">proliferation</tspan></text></g>
<g id="gd" class="n"><rect x="4890" y="439" width="132" height="49"/><text x="4956" y="468">gland development</text></g>
<g id="asfm" class="n"><rect x="5047" y="439" width="141" height="49"/><text x="5117.5" y="452.7"><tspan x="5117.5">anatomical structure</tspan><tspan x="5117.5" dy="15.3">formation involved</tspan><tspan x="5117.5" dy="15.3">in morphogenesis</tspan></text></g>
<g id="tm" class="n"><rect x="5262" y="439" width="150" height="49"/><text x="5337" y="468">tissue morphogenesis</text></g>
<g id="ed" class="n"><rect x="5437" y="439" width="166" height="49"/><text x="5520" y="468">epithelium development</text></g>
<g id="tubed" class="n"><rect x="5678" y="439" width="126" height="49"/><text x="5741" y="468">tube development</text></g>
<g id="embd" class="n"><rect x="5828" y="439" width="147" height="49"/><text x="5901.5" y="468">embryo development</text></g>
<g id="sd" class="n"><rect x="5999" y="439" width="144" height="49"/><text x="6071" y="468">system development</text></g>
<g id="nsp" class="n"><rect x="6167" y="439" width="111" height="49"/><text x="6222.5" y="460.35"><tspan x="6222.5">nervous system</tspan><tspan x="6222.5" dy="15.3">process</tspan></text></g>
<g id="rls" class="n"><rect x="6405" y="439" width="95" height="49"/><text x="6452.5" y="460.35"><tspan x="6452.5">response to</tspan><tspan x="6452.5" dy="15.3">light stimulus</tspan></text></g>
<g id="bdr" class="n"><rect x="6524" y="439" width="131" height="49"/><text x="6589.5" y="460.35"><tspan x="6589.5">behavioral defense</tspan><tspan x="6589.5" dy="15.3">response</tspan></text></g>
<g id="fr" class="n"><rect x="6680" y="439" width="94" height="49"/><text x="6727" y="468">fear response</text></g>
<g id="mmp" class="n"><rect x="2021" y="560" width="126" height="48"/><text x="2084" y="580.85"><tspan x="2084">macromolecule</tspan><tspan x="2084" dy="15.3">metabolic process</tspan></text></g>
<g id="occbp" class="n"><rect x="2171" y="560" width="158" height="48"/><text x="2250" y="573.2"><tspan x="2250">organic cyclic</tspan><tspan x="2250" dy="15.3">compound biosynthetic</tspan><tspan x="2250" dy="15.3">process</tspan></text></g>
<g id="nrncmp" class="n"><rect x="2354" y="551" width="143" height="65"/><text x="2425.5" y="565.05"><tspan x="2425.5">negative regulation</tspan><tspan x="2425.5" dy="15.3">of nitrogen</tspan><tspan x="2425.5" dy="15.3">compound metabolic</tspan><tspan x="2425.5" dy="15.3">process</tspan></text></g>
<g id="nrbsp" class="n"><rect x="2521" y="560" width="134" height="48"/><text x="2588" y="573.2"><tspan x="2588">negative regulation</tspan><tspan x="2588" dy="15.3">of biosynthetic</tspan><tspan x="2588" dy="15.3">process</tspan></text></g>
<g id="prncmp" class="n"><rect x="2730" y="551" width="142" height="65"/><text x="2801" y="565.05"><tspan x="2801">positive regulation</tspan><tspan x="2801" dy="15.3">of nitrogen</tspan><tspan x="2801" dy="15.3">compound metabolic</tspan><tspan x="2801" dy="15.3">process</tspan></text></g>
<g id="nccmp" class="n"><rect x="2897" y="560" width="153" height="48"/><text x="2973.5" y="573.2"><tspan x="2973.5">nucleobase-containing</tspan><tspan x="2973.5" dy="15.3">compound metabolic</tspan><tspan x="2973.5" dy="15.3">process</tspan></text></g>
<g id="cncbp" class="n"><rect x="3126" y="560" width="158" height="48"/><text x="3205" y="573.2"><tspan x="3205">cellular nitrogen</tspan><tspan x="3205" dy="15.3">compound biosynthetic</tspan><tspan x="3205" dy="15.3">process</tspan></text></g>
<g id="hbp" class="n"><rect x="3360" y="560" width="87" height="48"/><text x="3403.5" y="573.2"><tspan x="3403.5">heterocycle</tspan><tspan x="3403.5" dy="15.3">biosynthetic</tspan><tspan x="3403.5" dy="15.3">process</tspan></text></g>
<g id="acbp" class="n"><rect x="3472" y="560" width="136" height="48"/><text x="3540" y="573.2"><tspan x="3540">aromatic compound</tspan><tspan x="3540" dy="15.3">biosynthetic</tspan><tspan x="3540" dy="15.3">process</tspan></text></g>
<g id="prbsp" class="n"><rect x="3682" y="560" width="129" height="48"/><text x="3746.5" y="573.2"><tspan x="3746.5">positive regulation</tspan><tspan x="3746.5" dy="15.3">of biosynthetic</tspan><tspan x="3746.5" dy="15.3">process</tspan></text></g>
<g id="rcbp" class="n"><rect x="3936" y="560" width="139" height="48"/><text x="4005.5" y="573.2"><tspan x="4005.5">regulation of</tspan><tspan x="4005.5" dy="15.3">cellular biosynthetic</tspan><tspan x="4005.5" dy="15.3">process</tspan></text></g>
<g id="nrcmp" class="n"><rect x="4200" y="560" width="133" height="48"/><text x="4266.5" y="573.2"><tspan x="4266.5">negative regulation</tspan><tspan x="4266.5" dy="15.3">of cellular</tspan><tspan x="4266.5" dy="15.3">metabolic process</tspan></text></g>
<g id="prcmp" class="n"><rect x="4357" y="560" width="129" height="48"/><text x="4421.5" y="573.2"><tspan x="4421.5">positive regulation</tspan><tspan x="4421.5" dy="15.3">of cellular</tspan><tspan x="4421.5" dy="15.3">metabolic process</tspan></text></g>
<g id="recp" class="n"><rect x="4689" y="560" width="94" height="48"/><text x="4736" y="573.2"><tspan x="4736">regulation of</tspan><tspan x="4736" dy="15.3">epithelial cell</tspan><tspan x="4736" dy="15.3">proliferation</tspan></text></g>
<g id="mgd" class="n"><rect x="4899" y="560" width="114" height="48"/><text x="4956" y="580.85"><tspan x="4956">mammary gland</tspan><tspan x="4956" dy="15.3">development</tspan></text></g>
<g id="tubem" class="n"><rect x="5179" y="560" width="140" height="48"/><text x="5249" y="588.5">tube morphogenesis</text></g>
<g id="moe" class="n"><rect x="5347" y="560" width="113" height="48"/><text x="5403.5" y="580.85"><tspan x="5403.5">morphogenesis</tspan><tspan x="5403.5" dy="15.3">of an epithelium</tspan></text></g>
<g id="em" class="n"><rect x="5539" y="560" width="178" height="48"/><text x="5628" y="588.5">embryonic morphogenesis</text></g>
<g id="edeb" class="n"><rect x="5843" y="560" width="148" height="48"/><text x="5917" y="573.2"><tspan x="5917">embryo development</tspan><tspan x="5917" dy="15.3">ending in birth</tspan><tspan x="5917" dy="15.3">or egg hatching</tspan></text></g>
<g id="cog" class="n"><rect x="6197" y="560" width="73" height="48"/><text x="6233.5" y="588.5">cognition</text></g>
<g id="vb" class="n"><rect x="6354" y="560" width="106" height="48"/><text x="6407" y="588.5">visual behavior</text></g>
<g id="bfr" class="n cb"><rect x="6604" y="560" width="106" height="48"/><text x="6657" y="580.85"><tspan x="6657">behavioral fear</tspan><tspan x="6657" dy="15.3">response</tspan></text></g>
<g id="ge" class="n"><rect x="2136" y="671" width="114" height="49"/><text x="2193" y="700">gene expression</text></g>
<g id="mbp" class="n"><rect x="2439" y="671" width="106" height="49"/><text x="2492" y="684.7"><tspan x="2492">macromolecule</tspan><tspan x="2492" dy="15.3">biosynthetic</tspan><tspan x="2492" dy="15.3">process</tspan></text></g>
<g id="rmmp" class="n"><rect x="2569" y="671" width="126" height="49"/><text x="2632" y="684.7"><tspan x="2632">regulation of</tspan><tspan x="2632" dy="15.3">macromolecule</tspan><tspan x="2632" dy="15.3">metabolic process</tspan></text></g>
<g id="namp" class="n"><rect x="2769" y="671" width="126" height="49"/><text x="2832" y="692.35"><tspan x="2832">nucleic acid</tspan><tspan x="2832" dy="15.3">metabolic process</tspan></text></g>
<g id="ncbp" class="n"><rect x="3126" y="671" width="158" height="49"/><text x="3205" y="684.7"><tspan x="3205">nucleobase-containing</tspan><tspan x="3205" dy="15.3">compound biosynthetic</tspan><tspan x="3205" dy="15.3">process</tspan></text></g>
<g id="rnccmp" class="n"><rect x="3428" y="664" width="154" height="64"/><text x="3505" y="677.55"><tspan x="3505">regulation of</tspan><tspan x="3505" dy="15.3">nucleobase-containing</tspan><tspan x="3505" dy="15.3">compound metabolic</tspan><tspan x="3505" dy="15.3">process</tspan></text></g>
<g id="nrcbp" class="n"><rect x="3783" y="664" width="133" height="64"/><text x="3849.5" y="677.55"><tspan x="3849.5">negative regulation</tspan><tspan x="3849.5" dy="15.3">of cellular</tspan><tspan x="3849.5" dy="15.3">biosynthetic</tspan><tspan x="3849.5" dy="15.3">process</tspan></text></g>
<g id="prcbp" class="n"><rect x="3941" y="664" width="128" height="64"/><text x="4005" y="677.55"><tspan x="4005">positive regulation</tspan><tspan x="4005" dy="15.3">of cellular</tspan><tspan x="4005" dy="15.3">biosynthetic</tspan><tspan x="4005" dy="15.3">process</tspan></text></g>
<g id="mged" class="n"><rect x="4873" y="671" width="166" height="49"/><text x="4956" y="692.35"><tspan x="4956">mammary gland</tspan><tspan x="4956" dy="15.3">epithelium development</tspan></text></g>
<g id="tf" class="n"><rect x="5099" y="671" width="102" height="49"/><text x="5150" y="700">tube formation</text></g>
<g id="etm" class="n"><rect x="5227" y="671" width="106" height="49"/><text x="5280" y="692.35"><tspan x="5280">epithelial tube</tspan><tspan x="5280" dy="15.3">morphogenesis</tspan></text></g>
<g id="moee" class="n"><rect x="5357" y="671" width="107" height="49"/><text x="5410.5" y="684.7"><tspan x="5410.5">morphogenesis</tspan><tspan x="5410.5" dy="15.3">of embryonic</tspan><tspan x="5410.5" dy="15.3">epithelium</tspan></text></g>
<g id="nsd" class="n lb"><rect x="5792" y="671" width="111" height="49"/><text x="5847.5" y="692.35"><tspan x="5847.5">nervous system</tspan><tspan x="5847.5" dy="15.3">development</tspan></text></g>
<g id="ced" class="n"><rect x="5927" y="671" width="137" height="49"/><text x="5995.5" y="692.35"><tspan x="5995.5">chordate embryonic</tspan><tspan x="5995.5" dy="15.3">development</tspan></text></g>
<g id="ssd" class="n"><rect x="6089" y="671" width="109" height="49"/><text x="6143.5" y="692.35"><tspan x="6143.5">skeletal system</tspan><tspan x="6143.5" dy="15.3">development</tspan></text></g>
<g id="lom" class="n"><rect x="6278" y="671" width="76" height="49"/><text x="6316" y="692.35"><tspan x="6316">learning or</tspan><tspan x="6316" dy="15.3">memory</tspan></text></g>
<g id="nrmmp" class="n"><rect x="2230" y="783" width="134" height="50"/><text x="2297" y="797.2"><tspan x="2297">negative regulation</tspan><tspan x="2297" dy="15.3">of macromolecule</tspan><tspan x="2297" dy="15.3">metabolic process</tspan></text></g>
<g id="rge" class="n"><rect x="2490" y="783" width="113" height="50"/><text x="2546.5" y="804.85"><tspan x="2546.5">regulation of</tspan><tspan x="2546.5" dy="15.3">gene expression</tspan></text></g>
<g id="rnamp" class="n"><rect x="2780" y="783" width="103" height="50"/><text x="2831.5" y="804.85"><tspan x="2831.5">RNA metabolic</tspan><tspan x="2831.5" dy="15.3">process</tspan></text></g>
<g id="rmbp" class="n"><rect x="2959" y="776" width="106" height="64"/><text x="3012" y="789.55"><tspan x="3012">regulation of</tspan><tspan x="3012" dy="15.3">macromolecule</tspan><tspan x="3012" dy="15.3">biosynthetic</tspan><tspan x="3012" dy="15.3">process</tspan></text></g>
<g id="nrnccmp" class="n"><rect x="3089" y="776" width="170" height="64"/><text x="3174" y="789.55"><tspan x="3174">negative regulation</tspan><tspan x="3174" dy="15.3">of nucleobase-containing</tspan><tspan x="3174" dy="15.3">compound metabolic</tspan><tspan x="3174" dy="15.3">process</tspan></text></g>
<g id="prmmp" class="n"><rect x="3334" y="783" width="128" height="50"/><text x="3398" y="797.2"><tspan x="3398">positive regulation</tspan><tspan x="3398" dy="15.3">of macromolecule</tspan><tspan x="3398" dy="15.3">metabolic process</tspan></text></g>
<g id="prnccmp" class="n"><rect x="3487" y="776" width="171" height="64"/><text x="3572.5" y="789.55"><tspan x="3572.5">positive regulation</tspan><tspan x="3572.5" dy="15.3">of nucleobase-containing</tspan><tspan x="3572.5" dy="15.3">compound metabolic</tspan><tspan x="3572.5" dy="15.3">process</tspan></text></g>
<g id="mgecp" class="n"><rect x="4773" y="783" width="115" height="50"/><text x="4830.5" y="797.2"><tspan x="4830.5">mammary gland</tspan><tspan x="4830.5" dy="15.3">epithelial cell</tspan><tspan x="4830.5" dy="15.3">proliferation</tspan></text></g>
<g id="etf" class="n"><rect x="5230" y="783" width="100" height="50"/><text x="5280" y="804.85"><tspan x="5280">epithelial tube</tspan><tspan x="5280" dy="15.3">formation</tspan></text></g>
<g id="ntd" class="n"><rect x="5708" y="783" width="92" height="50"/><text x="5754" y="804.85"><tspan x="5754">neural tube</tspan><tspan x="5754" dy="15.3">development</tspan></text></g>
<g id="essd" class="n cb"><rect x="5999" y="783" width="144" height="50"/><text x="6071" y="804.85"><tspan x="6071">embryonic skeletal</tspan><tspan x="6071" dy="15.3">system development</tspan></text></g>
<g id="learning" class="n"><rect x="6286" y="783" width="73" height="50"/><text x="6322.5" y="812.5">learning</text></g>
<g id="nrmbp" class="n"><rect x="2376" y="896" width="133" height="64"/><text x="2442.5" y="909.55"><tspan x="2442.5">negative regulation</tspan><tspan x="2442.5" dy="15.3">of macromolecule</tspan><tspan x="2442.5" dy="15.3">biosynthetic</tspan><tspan x="2442.5" dy="15.3">process</tspan></text></g>
<g id="rnabp" class="n"><rect x="2768" y="903" width="117" height="49"/><text x="2826.5" y="924.35"><tspan x="2826.5">RNA biosynthetic</tspan><tspan x="2826.5" dy="15.3">process</tspan></text></g>
<g id="rrnamp" class="n"><rect x="3017" y="903" width="101" height="49"/><text x="3067.5" y="916.7"><tspan x="3067.5">regulation of</tspan><tspan x="3067.5" dy="15.3">RNA metabolic</tspan><tspan x="3067.5" dy="15.3">process</tspan></text></g>
<g id="prmbp" class="n"><rect x="3334" y="896" width="128" height="64"/><text x="3398" y="909.55"><tspan x="3398">positive regulation</tspan><tspan x="3398" dy="15.3">of macromolecule</tspan><tspan x="3398" dy="15.3">biosynthetic</tspan><tspan x="3398" dy="15.3">process</tspan></text></g>
<g id="rmgecp" class="n cb"><rect x="4727" y="896" width="114" height="64"/><text x="4784" y="909.55"><tspan x="4784">regulation of</tspan><tspan x="4784" dy="15.3">mammary gland</tspan><tspan x="4784" dy="15.3">epithelial cell</tspan><tspan x="4784" dy="15.3">proliferation</tspan></text></g>
<g id="eetf" class="n"><rect x="5297" y="903" width="141" height="49"/><text x="5367.5" y="924.35"><tspan x="5367.5">embryonic epithelial</tspan><tspan x="5367.5" dy="15.3">tube formation</tspan></text></g>
<g id="al" class="n"><rect x="6284" y="903" width="80" height="49"/><text x="6324" y="924.35"><tspan x="6324">associative</tspan><tspan x="6324" dy="15.3">learning</tspan></text></g>
<g id="natt" class="n"><rect x="2584" y="1017" width="155" height="49"/><text x="2661.5" y="1038.35"><tspan x="2661.5">nucleic acid-templated</tspan><tspan x="2661.5" dy="15.3">transcription</tspan></text></g>
<g id="nrrnamp" class="n"><rect x="2915" y="1017" width="133" height="49"/><text x="2981.5" y="1030.7"><tspan x="2981.5">negative regulation</tspan><tspan x="2981.5" dy="15.3">of RNA metabolic</tspan><tspan x="2981.5" dy="15.3">process</tspan></text></g>
<g id="rrnabp" class="n"><rect x="3073" y="1017" width="118" height="49"/><text x="3132" y="1030.7"><tspan x="3132">regulation of</tspan><tspan x="3132" dy="15.3">RNA biosynthetic</tspan><tspan x="3132" dy="15.3">process</tspan></text></g>
<g id="prrnamp" class="n"><rect x="3216" y="1017" width="128" height="49"/><text x="3280" y="1030.7"><tspan x="3280">positive regulation</tspan><tspan x="3280" dy="15.3">of RNA metabolic</tspan><tspan x="3280" dy="15.3">process</tspan></text></g>
<g id="ntf" class="n"><rect x="5366" y="1017" width="81" height="49"/><text x="5406.5" y="1038.35"><tspan x="5406.5">neural tube</tspan><tspan x="5406.5" dy="15.3">formation</tspan></text></g>
<g id="vl" class="n cb"><rect x="6313" y="1017" width="102" height="49"/><text x="6364" y="1046">visual learning</text></g>
<g id="dtt" class="n"><rect x="2403" y="1116" width="106" height="48"/><text x="2456" y="1136.85"><tspan x="2456">DNA-templated</tspan><tspan x="2456" dy="15.3">transcription</tspan></text></g>
<g id="rnatt" class="n"><rect x="2684" y="1116" width="155" height="48"/><text x="2761.5" y="1129.2"><tspan x="2761.5">regulation of</tspan><tspan x="2761.5" dy="15.3">nucleic acid-templated</tspan><tspan x="2761.5" dy="15.3">transcription</tspan></text></g>
<g id="nrrnabp" class="n"><rect x="2915" y="1116" width="133" height="48"/><text x="2981.5" y="1129.2"><tspan x="2981.5">negative regulation</tspan><tspan x="2981.5" dy="15.3">of RNA biosynthetic</tspan><tspan x="2981.5" dy="15.3">process</tspan></text></g>
<g id="prrnabp" class="n"><rect x="3143" y="1116" width="135" height="48"/><text x="3210.5" y="1129.2"><tspan x="3210.5">positive regulation</tspan><tspan x="3210.5" dy="15.3">of RNA biosynthetic</tspan><tspan x="3210.5" dy="15.3">process</tspan></text></g>
<g id="tc" class="n"><rect x="5142" y="1116" width="87" height="48"/><text x="5185.5" y="1144.5">tube closure</text></g>
<g id="pntf" class="n"><rect x="5278" y="1116" width="102" height="48"/><text x="5329" y="1136.85"><tspan x="5329">primary neural</tspan><tspan x="5329" dy="15.3">tube formation</tspan></text></g>
<g id="trnap2" class="n"><rect x="2258" y="1214" width="134" height="49"/><text x="2325" y="1227.7"><tspan x="2325">transcription</tspan><tspan x="2325" dy="15.3">by RNA polymerase</tspan><tspan x="2325" dy="15.3">II</tspan></text></g>
<g id="rdtt" class="n"><rect x="2519" y="1214" width="106" height="49"/><text x="2572" y="1227.7"><tspan x="2572">regulation of</tspan><tspan x="2572" dy="15.3">DNA-templated</tspan><tspan x="2572" dy="15.3">transcription</tspan></text></g>
<g id="nrnatt" class="n"><rect x="2651" y="1214" width="170" height="49"/><text x="2736" y="1227.7"><tspan x="2736">negative regulation</tspan><tspan x="2736" dy="15.3">of nucleic acid-templated</tspan><tspan x="2736" dy="15.3">transcription</tspan></text></g>
<g id="prnatt" class="n"><rect x="2846" y="1214" width="171" height="49"/><text x="2931.5" y="1227.7"><tspan x="2931.5">positive regulation</tspan><tspan x="2931.5" dy="15.3">of nucleic acid-templated</tspan><tspan x="2931.5" dy="15.3">transcription</tspan></text></g>
<g id="ntc" class="n cb"><rect x="5218" y="1214" width="79" height="49"/><text x="5257.5" y="1235.35"><tspan x="5257.5">neural tube</tspan><tspan x="5257.5" dy="15.3">closure</tspan></text></g>
<g id="rtrnap2" class="n cb"><rect x="2276" y="1311" width="135" height="64"/><text x="2343.5" y="1324.55"><tspan x="2343.5">regulation of</tspan><tspan x="2343.5" dy="15.3">transcription</tspan><tspan x="2343.5" dy="15.3">by RNA polymerase</tspan><tspan x="2343.5" dy="15.3">II</tspan></text></g>
<g id="nrdtt" class="n lb"><rect x="2487" y="1320" width="133" height="49"/><text x="2553.5" y="1333.7"><tspan x="2553.5">negative regulation</tspan><tspan x="2553.5" dy="15.3">of DNA-templated</tspan><tspan x="2553.5" dy="15.3">transcription</tspan></text></g>
<g id="prdtt" class="n lb"><rect x="2644" y="1320" width="128" height="49"/><text x="2708" y="1333.7"><tspan x="2708">positive regulation</tspan><tspan x="2708" dy="15.3">of DNA-templated</tspan><tspan x="2708" dy="15.3">transcription</tspan></text></g>
<g id="nrtrnap2" class="n lb"><rect x="2250" y="1423" width="134" height="65"/><text x="2317" y="1437.05"><tspan x="2317">negative regulation</tspan><tspan x="2317" dy="15.3">of transcription</tspan><tspan x="2317" dy="15.3">by RNA polymerase</tspan><tspan x="2317" dy="15.3">II</tspan></text></g>
<g id="prtrnap2" class="n lb"><rect x="2409" y="1423" width="134" height="65"/><text x="2476" y="1437.05"><tspan x="2476">positive regulation</tspan><tspan x="2476" dy="15.3">of transcription</tspan><tspan x="2476" dy="15.3">by RNA polymerase</tspan><tspan x="2476" dy="15.3">II</tspan></text></g>
</g>
</svg>
